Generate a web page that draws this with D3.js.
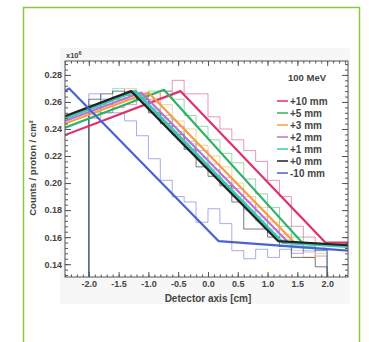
<!DOCTYPE html>
<html>
<head>
<meta charset="utf-8">
<script src="https://cdn.jsdelivr.net/npm/d3@7"></script>
<style>
  body { margin: 0; background: #fff; }
  text { font-family: "Liberation Sans", Arial, sans-serif; font-weight: bold; fill: #444; }
</style>
</head>
<body>
<div class="container"></div>
<script>
const size = { width: 369, height: 342 };

// series names and colours
const labels = ["+10 mm", "+5 mm", "+3 mm", "+2 mm", "+1 mm", "+0 mm", "-10 mm"];
const colors = ["#e0306a", "#2fb066", "#f0a040", "#c070d0", "#3cc8b4", "#222222", "#4a62d4"];

// histogram bin edges (cm)
const binEdges = [-2.0, -1.8, -1.6, -1.4, -1.2, -1.0, -0.8, -0.6, -0.4, -0.2, 0.0,
                  0.2, 0.4, 0.6, 0.8, 1.0, 1.2, 1.4, 1.6, 1.8, 2.0];

// histogram contents (x10^6 counts / proton / cm^2)
const histP10 = [0.248, 0.252, 0.256, 0.258, 0.262, 0.262, 0.268, 0.276, 0.266, 0.266, 0.249, 0.240, 0.232, 0.224, 0.216, 0.202, 0.190, 0.168, 0.160, 0.146];
const histP5  = [0.252, 0.258, 0.262, 0.262, 0.266, 0.268, 0.268, 0.262, 0.250, 0.242, 0.232, 0.222, 0.215, 0.203, 0.192, 0.182, 0.168, 0.160, 0.153, 0.150];
const histP3  = [0.255, 0.258, 0.262, 0.270, 0.265, 0.266, 0.258, 0.246, 0.240, 0.228, 0.220, 0.212, 0.200, 0.190, 0.182, 0.171, 0.162, 0.150, 0.145, 0.148];
const histP2  = [0.256, 0.262, 0.264, 0.268, 0.266, 0.260, 0.250, 0.242, 0.231, 0.224, 0.214, 0.204, 0.196, 0.186, 0.175, 0.166, 0.160, 0.154, 0.149, 0.152];
const histP1  = [0.258, 0.262, 0.270, 0.266, 0.266, 0.255, 0.248, 0.238, 0.229, 0.219, 0.210, 0.200, 0.190, 0.180, 0.172, 0.163, 0.158, 0.152, 0.150, 0.151];
const histP0  = [0.262, 0.266, 0.268, 0.265, 0.262, 0.252, 0.244, 0.236, 0.225, 0.212, 0.205, 0.198, 0.186, 0.166, 0.166, 0.160, 0.153, 0.145, 0.145, 0.138];
const histM10 = [0.266, 0.252, 0.252, 0.246, 0.235, 0.218, 0.202, 0.190, 0.186, 0.171, 0.181, 0.170, 0.150, 0.144, 0.151, 0.145, 0.151, 0.148, 0.152, 0.150];

// piecewise linear fits: [x, y] vertices
const fitP10 = [[-2.4, 0.2355], [-0.46, 0.268], [1.97, 0.156], [2.35, 0.156]];
const fitP5  = [[-2.4, 0.2410], [-0.74, 0.269], [1.60, 0.155], [2.35, 0.154]];
const fitP3  = [[-2.4, 0.2440], [-1.00, 0.267], [1.45, 0.156], [2.35, 0.154]];
const fitP2  = [[-2.4, 0.2460], [-1.12, 0.267], [1.35, 0.156], [2.35, 0.154]];
const fitP1  = [[-2.4, 0.2478], [-1.22, 0.268], [1.25, 0.156], [2.35, 0.153]];
const fitP0  = [[-2.4, 0.2495], [-1.29, 0.268], [1.18, 0.157], [2.35, 0.154]];
const fitM10 = [[-2.4, 0.2680], [-2.33, 0.270], [0.18, 0.157], [2.35, 0.150]];

const hists = [histP10, histP5, histP3, histP2, histP1, histP0, histM10];
const fits = [fitP10, fitP5, fitP3, fitP2, fitP1, fitP0, fitM10];

// axis ticks
const xTicks = [-2.0, -1.5, -1.0, -0.5, 0.0, 0.5, 1.0, 1.5, 2.0];
const xTickLabels = ["-2.0", "-1.5", "-1.0", "-0.5", "0.0", "0.5", "1.0", "1.5", "2.0"];
const yTicks = [0.14, 0.16, 0.18, 0.20, 0.22, 0.24, 0.26, 0.28];
const yTickLabels = ["0.14", "0.16", "0.18", "0.20", "0.22", "0.24", "0.26", "0.28"];

const frame = { left: 65, right: 348, top: 61, bottom: 277 };

const svg = d3.select(".container")
              .append("svg")
              .attr("width", size.width)
              .attr("height", size.height);

// green card border
svg.append("rect")
   .attr("x", 23.5).attr("y", 7.5)
   .attr("width", 336).attr("height", 400)
   .attr("fill", "none")
   .attr("stroke", "#8dc63f")
   .attr("stroke-width", 1.5);

// pale panel behind the figure
svg.append("rect")
   .attr("x", 60).attr("y", 48)
   .attr("width", 290).attr("height", 256)
   .attr("fill", "#f7f7f7");

svg.append("rect")
   .attr("x", frame.left).attr("y", frame.top)
   .attr("width", frame.right - frame.left).attr("height", frame.bottom - frame.top)
   .attr("fill", "#fff");

const x = d3.scaleLinear().domain([-2.4, 2.35]).range([frame.left, frame.right]);
const y = d3.scaleLinear().domain([0.1305, 0.2903]).range([frame.bottom, frame.top]);

const plot = svg.append("g");
plot.append("clipPath").attr("id", "clip")
    .append("rect")
    .attr("x", frame.left).attr("y", frame.top)
    .attr("width", frame.right - frame.left).attr("height", frame.bottom - frame.top);

const inner = plot.append("g").attr("clip-path", "url(#clip)");

// histograms as step lines starting and ending at zero
const stepPath = (vals) => {
    const pts = [[binEdges[0], 0]];
    vals.forEach((v, i) => {
        pts.push([binEdges[i], v]);
        pts.push([binEdges[i + 1], v]);
    });
    pts.push([binEdges[binEdges.length - 1], 0]);
    return d3.line().x(d => x(d[0])).y(d => y(d[1]))(pts);
};

inner.selectAll(".hist")
     .data(hists)
     .enter()
     .append("path")
     .attr("class", "hist")
     .attr("d", d => stepPath(d))
     .attr("fill", "none")
     .attr("stroke", (d, i) => colors[i])
     .attr("stroke-opacity", (d, i) => i == 5 ? 0.6 : 0.5)
     .attr("stroke-width", 1);

const fitLine = d3.line().x(d => x(d[0])).y(d => y(d[1]));
inner.selectAll(".fit")
     .data(fits)
     .enter()
     .append("path")
     .attr("class", "fit")
     .attr("d", d => fitLine(d))
     .attr("fill", "none")
     .attr("stroke", (d, i) => colors[i])
     .attr("stroke-width", (d, i) => i == 4 ? 3 : 2.2)
     .attr("stroke-linejoin", "round");

// frame
svg.append("rect")
   .attr("x", frame.left).attr("y", frame.top)
   .attr("width", frame.right - frame.left).attr("height", frame.bottom - frame.top)
   .attr("fill", "none")
   .attr("stroke", "#555")
   .attr("stroke-width", 1);

const xMinor = d3.range(-24, 24).map(i => i / 10);
const yMinor = d3.range(33, 73).map(i => i * 0.004);

const styleAxis = (g) => {
    g.select(".domain").remove();
    g.selectAll(".tick line").attr("stroke", "#555");
    g.selectAll("text").attr("font-size", 9).attr("fill", "#444")
     .attr("font-family", "Liberation Sans, Arial, sans-serif").attr("font-weight", "bold");
};

// bottom / top axes
svg.append("g").attr("transform", `translate(0,${frame.bottom})`)
   .call(d3.axisBottom(x).tickValues(xTicks).tickSize(-5).tickPadding(4)
           .tickFormat((d, i) => xTickLabels[i]))
   .call(styleAxis);
svg.append("g").attr("transform", `translate(0,${frame.bottom})`)
   .call(d3.axisBottom(x).tickValues(xMinor).tickSize(-2.5).tickFormat(""))
   .call(styleAxis);
svg.append("g").attr("transform", `translate(0,${frame.top})`)
   .call(d3.axisTop(x).tickValues(xTicks).tickSize(-5).tickFormat(""))
   .call(styleAxis);
svg.append("g").attr("transform", `translate(0,${frame.top})`)
   .call(d3.axisTop(x).tickValues(xMinor).tickSize(-2.5).tickFormat(""))
   .call(styleAxis);

// left / right axes
svg.append("g").attr("transform", `translate(${frame.left},0)`)
   .call(d3.axisLeft(y).tickValues(yTicks).tickSize(-6).tickPadding(3)
           .tickFormat((d, i) => yTickLabels[i]))
   .call(styleAxis);
svg.append("g").attr("transform", `translate(${frame.left},0)`)
   .call(d3.axisLeft(y).tickValues(yMinor).tickSize(-3).tickFormat(""))
   .call(styleAxis);
svg.append("g").attr("transform", `translate(${frame.right},0)`)
   .call(d3.axisRight(y).tickValues(yTicks).tickSize(-6).tickFormat(""))
   .call(styleAxis);
svg.append("g").attr("transform", `translate(${frame.right},0)`)
   .call(d3.axisRight(y).tickValues(yMinor).tickSize(-3).tickFormat(""))
   .call(styleAxis);

// axis titles
svg.append("text")
   .attr("x", 208).attr("y", 302)
   .attr("text-anchor", "middle")
   .attr("font-size", 10)
   .text("Detector axis [cm]");

svg.append("text")
   .attr("transform", "translate(36,168) rotate(-90)")
   .attr("text-anchor", "middle")
   .attr("font-size", 9.5)
   .text("Counts / proton / cm²");

const expo = svg.append("text").attr("x", 66).attr("y", 58).attr("font-size", 7.5);
expo.append("tspan").text("x10");
expo.append("tspan").attr("dy", -3).attr("font-size", 5.5).text("6");

// legend
svg.append("text")
   .attr("x", 307).attr("y", 81)
   .attr("text-anchor", "middle")
   .attr("font-size", 9.5)
   .text("100 MeV");

const legend = svg.selectAll(".leg")
                  .data(labels)
                  .enter()
                  .append("g")
                  .attr("class", "leg")
                  .attr("transform", (d, i) => `translate(0,${101 + i * 12})`);
legend.append("line")
      .attr("x1", 277).attr("x2", 288)
      .attr("stroke", (d, i) => colors[i])
      .attr("stroke-width", 1.5);
legend.append("text")
      .attr("x", 290).attr("y", 3.5)
      .attr("font-size", 10)
      .text(d => d);
</script>
</body>
</html>
